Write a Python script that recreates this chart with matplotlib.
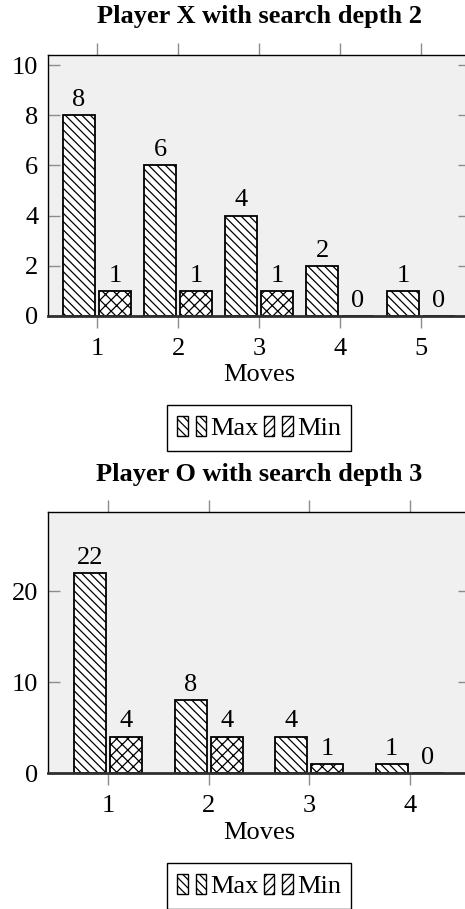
import matplotlib
matplotlib.use("Agg")
import matplotlib.pyplot as plt
import numpy as np
from matplotlib.patches import Patch
from matplotlib.legend_handler import HandlerTuple

plt.rcParams['font.family'] = ['Liberation Serif', 'DejaVu Serif']
plt.rcParams['hatch.linewidth'] = 0.9

# Data
titles = ["Player X with search depth 2", "Player O with search depth 3"]
moves_x = [1, 2, 3, 4, 5]
max_x = [8, 6, 4, 2, 1]
min_x = [1, 1, 1, 0, 0]
moves_o = [1, 2, 3, 4]
max_o = [22, 8, 4, 1]
min_o = [4, 4, 1, 0]
series_labels = ["Max", "Min"]
xlabel = "Moves"

W, H = 465, 909
fig = plt.figure(figsize=(W / 100, H / 100), dpi=100)

FS = 19
GRAY = '#8c8c8c'


def px(x0, y_top, w, h):
    return [x0 / W, 1 - (y_top + h) / H, w / W, h / H]


def make_panel(rect, moves, vmax, vmin, ylim_top, yticks, xlim, bar_w, off, title, title_y, xlabel_y, legend_y):
    ax = fig.add_axes(rect)
    ax.set_facecolor('#f0f0f0')
    xs = np.array(moves, dtype=float)
    b1 = ax.bar(xs - off, vmax, width=bar_w, facecolor='white', edgecolor='black',
                linewidth=1.3, hatch='\\\\\\\\', zorder=3)
    b2 = ax.bar(xs + off, vmin, width=bar_w, facecolor='white', edgecolor='black',
                linewidth=1.3, hatch='xxx', zorder=3)
    for bars, vals in ((b1, vmax), (b2, vmin)):
        for r, v in zip(bars, vals):
            ax.annotate(str(v), (r.get_x() + r.get_width() / 2, r.get_height()),
                        xytext=(0, 3), textcoords='offset points',
                        ha='center', va='bottom', fontsize=FS)
    ax.set_xlim(*xlim)
    ax.set_ylim(0, ylim_top)
    ax.set_xticks(moves)
    ax.set_xticklabels([str(m) for m in moves])
    ax.set_yticks(yticks)
    ax.tick_params(axis='x', which='both', direction='out', length=8.5, width=1,
                   color=GRAY, top=True, bottom=True, labeltop=False, labelsize=FS, pad=7)
    ax.tick_params(axis='y', which='both', direction='in', length=8.5, width=1,
                   color=GRAY, left=True, right=True, labelsize=FS, pad=7)
    for s in ('left', 'top', 'right'):
        ax.spines[s].set_color('black')
        ax.spines[s].set_linewidth(1.0)
    ax.spines['bottom'].set_color('#303030')
    ax.spines['bottom'].set_linewidth(2.0)
    ax.spines['bottom'].set_zorder(4)
    fig.text(259 / W, 1 - title_y / H, title, ha='center', va='center',
             fontsize=FS, fontweight='bold')
    fig.text(259 / W, 1 - xlabel_y / H, xlabel, ha='center', va='center', fontsize=FS)
    h_max = (Patch(facecolor='white', edgecolor='black', hatch='\\\\\\\\'),
             Patch(facecolor='white', edgecolor='black', hatch='\\\\\\\\'))
    h_min = (Patch(facecolor='white', edgecolor='black', hatch='////'),
             Patch(facecolor='white', edgecolor='black', hatch='////'))
    fig.legend([h_max, h_min], series_labels,
               handler_map={tuple: HandlerTuple(ndivide=None, pad=0.3)},
               loc='center', bbox_to_anchor=(259 / W, 1 - legend_y / H),
               ncol=2, fontsize=FS, frameon=True, fancybox=False, edgecolor='black',
               framealpha=1, handlelength=1.1, handleheight=0.8, handletextpad=0.15,
               columnspacing=0.2, borderpad=0.4, borderaxespad=0)
    fig.legends[-1].get_frame().set_linewidth(1.0)
    return ax


make_panel(px(48, 55, 422, 261), moves_x, max_x, min_x, 10.4, [0, 2, 4, 6, 8, 10],
           (0.395, 5.605), 0.395, 0.222, titles[0], 17, 375, 428)
make_panel(px(48, 512, 422, 261), moves_o, max_o, min_o, 28.7, [0, 10, 20],
           (0.40, 4.60), 0.32, 0.18, titles[1], 474, 833, 886)

fig.savefig('out.png', dpi=100)
